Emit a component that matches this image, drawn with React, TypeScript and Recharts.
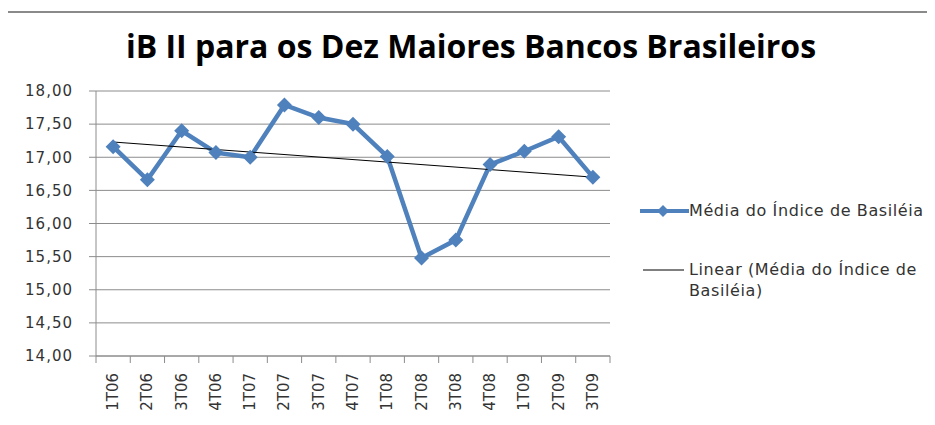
import {
  LineChart,
  Line,
  XAxis,
  YAxis,
  CartesianGrid,
  ReferenceLine,
} from 'recharts';

const quarters = [
  '1T06', '2T06', '3T06', '4T06', '1T07', '2T07', '3T07', '4T07',
  '1T08', '2T08', '3T08', '4T08', '1T09', '2T09', '3T09',
];
const basileia = [
  17.16, 16.66, 17.4, 17.07, 17.0, 17.79, 17.6, 17.5,
  17.01, 15.48, 15.75, 16.89, 17.09, 17.31, 16.7,
];
// linear trend ends
const trendStart = 17.23;
const trendEnd = 16.7;
const yTicks = [14, 14.5, 15, 15.5, 16, 16.5, 17, 17.5, 18];

const seriesName = 'Média do Índice de Basiléia';
const trendName = 'Linear (Média do Índice de Basiléia)';

const BLUE = '#4f81bd';
const GRID = '#8c8c8c';
const FONT = '"DejaVu Sans", sans-serif';

const data = quarters.map((q, i) => ({ q, value: basileia[i] }));

const W = 935;
const H = 425;
const PLOT_LEFT = 96;
const PLOT_RIGHT = 610;
const HALF_STEP = (PLOT_RIGHT - PLOT_LEFT) / quarters.length / 2;

function Diamond(props: any) {
  const { cx, cy } = props;
  if (cx == null || cy == null) return null;
  const r = 7.5;
  return (
    <path
      d={`M${cx},${cy - r}L${cx + r},${cy}L${cx},${cy + r}L${cx - r},${cy}Z`}
      fill={BLUE}
    />
  );
}

function QuarterTick(props: any) {
  const { x, y, payload, index } = props;
  const axisY = y - 8;
  const last = index === quarters.length - 1;
  return (
    <g>
      <line x1={x - HALF_STEP} x2={x - HALF_STEP} y1={axisY} y2={axisY + 7} stroke={GRID} />
      {last && (
        <line x1={x + HALF_STEP} x2={x + HALF_STEP} y1={axisY} y2={axisY + 7} stroke={GRID} />
      )}
      <text
        x={x}
        y={axisY + 17}
        transform={`rotate(-90, ${x}, ${axisY + 17})`}
        textAnchor="end"
        dominantBaseline="central"
        fontSize={15}
        fontFamily={FONT}
        fill="#333"
      >
        {payload.value}
      </text>
    </g>
  );
}

function LegendBox() {
  return (
    <div
      style={{
        position: 'absolute',
        left: 640,
        top: 200,
        width: 295,
        fontFamily: FONT,
        fontSize: 16,
        letterSpacing: 0.6,
        color: '#333',
        lineHeight: '21px',
      }}
    >
      <div style={{ display: 'flex', alignItems: 'center' }}>
        <svg width={49} height={16} style={{ flexShrink: 0 }}>
          <line x1={0} x2={49} y1={8} y2={8} stroke={BLUE} strokeWidth={4} />
          <path d="M23,2L29,8L23,14L17,8Z" fill={BLUE} />
        </svg>
        <span>{seriesName}</span>
      </div>
      <div style={{ display: 'flex', alignItems: 'flex-start', marginTop: 38 }}>
        <svg width={49} height={21} style={{ flexShrink: 0 }}>
          <line x1={3} x2={44} y1={11} y2={11} stroke="#000" strokeWidth={1} />
        </svg>
        <span style={{ width: 244 }}>{trendName}</span>
      </div>
    </div>
  );
}

export default function App() {
  return (
    <div style={{ position: 'relative', width: W, height: H, margin: -8, background: '#fff' }}>
      <div
        style={{
          position: 'absolute',
          left: 4,
          right: 0,
          top: 11,
          height: 2,
          background: '#8a8a8a',
        }}
      />
      <div
        style={{
          position: 'absolute',
          left: 0,
          width: 942,
          top: 24,
          textAlign: 'center',
          fontFamily: '"Open Sans", sans-serif',
          fontWeight: 700,
          fontSize: 32,
          color: '#000',
        }}
      >
        iB II para os Dez Maiores Bancos Brasileiros
      </div>
      <LineChart
        width={W}
        height={H}
        data={data}
        margin={{ top: 91, right: W - PLOT_RIGHT, bottom: 9, left: 0 }}
        style={{ position: 'absolute', left: 0, top: 0 }}
      >
        <CartesianGrid vertical={false} stroke={GRID} strokeDasharray="" />
        <XAxis
          dataKey="q"
          height={60}
          padding={{ left: HALF_STEP, right: HALF_STEP }}
          axisLine={{ stroke: GRID }}
          tickLine={false}
          tick={<QuarterTick />}
          interval={0}
        />
        <YAxis
          width={PLOT_LEFT}
          domain={[14, 18]}
          ticks={yTicks}
          interval={0}
          allowDataOverflow
          axisLine={{ stroke: GRID }}
          tickLine={{ stroke: GRID }}
          tickSize={7}
          tickMargin={16}
          tickFormatter={(v: number) => v.toFixed(2).replace('.', ',')}
          tick={{ fontSize: 15, fontFamily: FONT, fill: '#333', letterSpacing: 1 }}
        />
        <Line
          type="linear"
          dataKey="value"
          name={seriesName}
          stroke={BLUE}
          strokeWidth={4.5}
          dot={<Diamond />}
          activeDot={false}
          isAnimationActive={false}
        />
        <ReferenceLine
          segment={[
            { x: quarters[0], y: trendStart },
            { x: quarters[quarters.length - 1], y: trendEnd },
          ]}
          stroke="#000"
          strokeWidth={1}
          ifOverflow="visible"
        />
      </LineChart>
      <LegendBox />
    </div>
  );
}
